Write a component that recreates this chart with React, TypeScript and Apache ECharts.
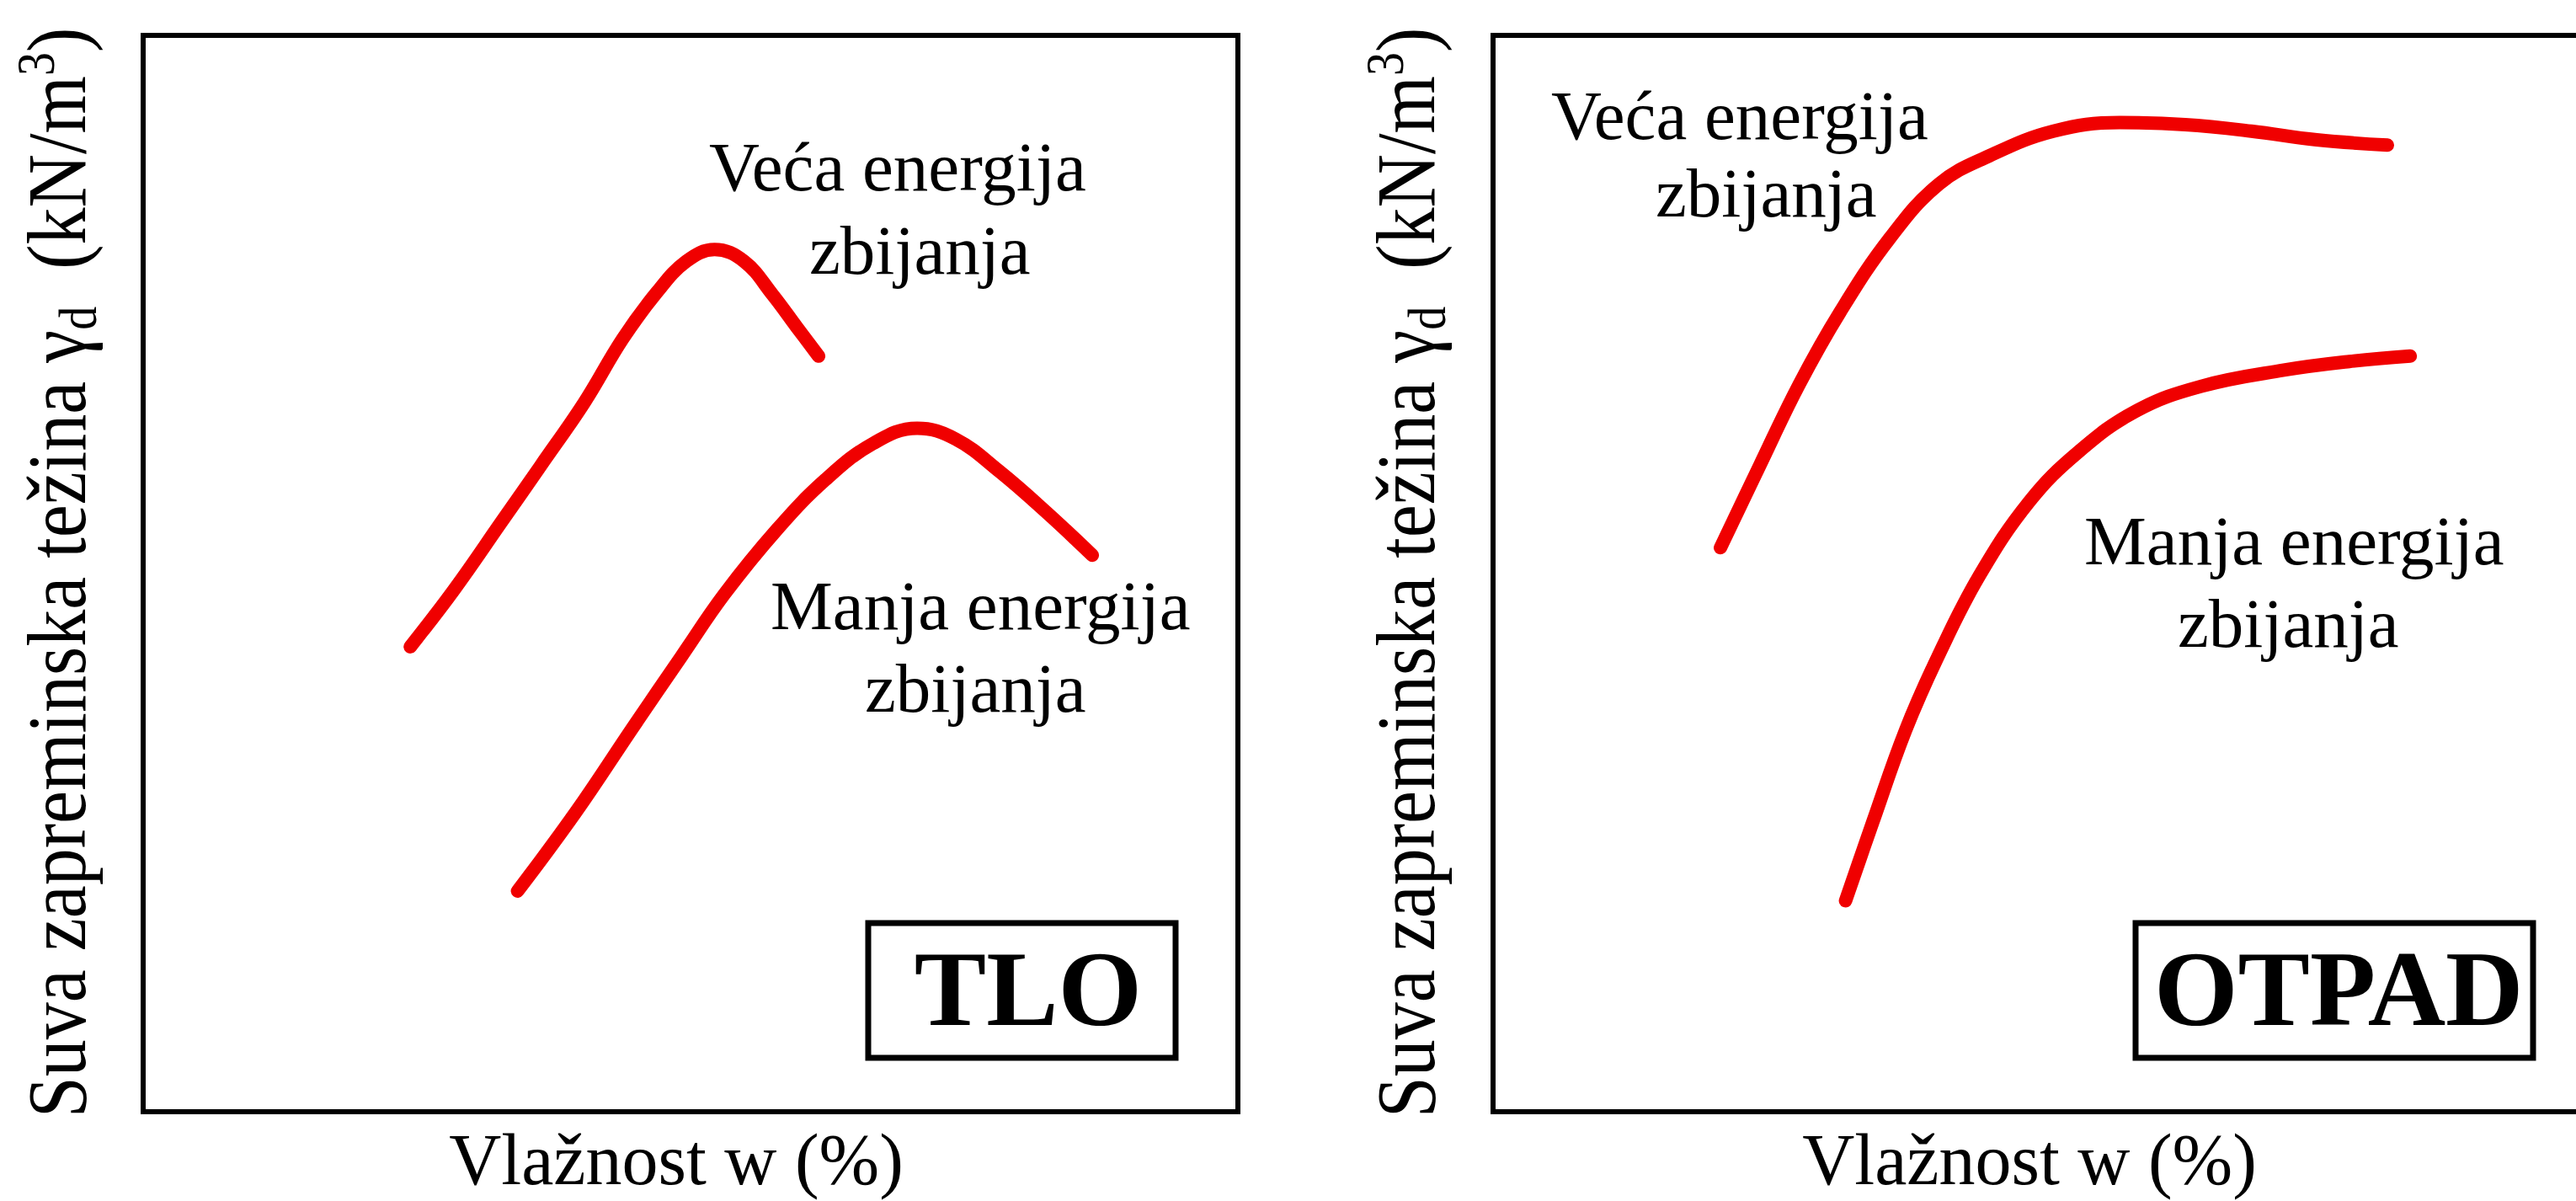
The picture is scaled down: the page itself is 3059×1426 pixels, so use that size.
import React, { useEffect, useRef } from 'react';
import * as echarts from 'echarts';

const W = 3059;
const H = 1426;

// Values are in relative units (0-100 of each panel's box).
// Left panel: TLO (soil)
const tloVecaW = [24.4, 28.4, 32.8, 36.3, 40.3, 43.8, 46.9, 49.6, 52.2, 54.9, 57.5, 59.7, 61.7];
const tloVecaGamma = [43.2, 48.5, 54.9, 60.0, 65.9, 71.8, 76.1, 79.0, 80.1, 79.0, 75.9, 72.9, 70.2];
const tloManjaW = [34.2, 39.5, 44.8, 49.1, 53.1, 57.9, 62.3, 66.7, 70.7, 74.2, 78.2, 82.5, 86.7];
const tloManjaGamma = [20.5, 27.8, 35.8, 42.2, 48.1, 54.1, 58.7, 62.1, 63.5, 62.5, 59.5, 55.7, 51.7];

// Right panel: OTPAD (waste)
const otpadVecaW = [20.9, 24.4, 28.1, 31.9, 36.5, 41.0, 45.6, 51.5, 57.6, 63.6, 69.7, 75.7, 82.2];
const otpadVecaGamma = [52.4, 59.8, 67.5, 74.3, 81.2, 86.2, 88.8, 91.1, 91.9, 91.7, 91.1, 90.3, 89.8];
const otpadManjaW = [32.4, 34.9, 37.9, 40.9, 44.7, 49.3, 53.8, 59.1, 65.1, 72.7, 78.7, 84.3];
const otpadManjaGamma = [19.6, 26.9, 35.4, 42.3, 49.8, 56.7, 61.3, 65.1, 67.4, 68.9, 69.7, 70.2];

const xTitle = 'Vlažnost w (%)';
const panelNames = ['TLO', 'OTPAD'];
const higherLines = ['Veća energija', 'zbijanja'];
const lowerLines = ['Manja energija', 'zbijanja'];

const RED = '#f00000';
const SERIF = '"Liberation Serif", "Times New Roman", Times, serif';

const zip = (a: number[], b: number[]) => a.map((v, i) => [v, b[i]]);

function txt(text: string, x: number, baseline: number, size: number, align = 'left', weight = 'normal') {
  return {
    type: 'text',
    x,
    y: baseline - 0.3375 * size,
    silent: true,
    style: {
      text,
      fontFamily: SERIF,
      fontSize: size,
      fontWeight: weight,
      fill: '#000',
      align,
      verticalAlign: 'middle',
    },
  };
}

function yLabel(x: number) {
  return {
    type: 'text',
    x,
    y: 680,
    rotation: Math.PI / 2,
    scaleY: 1.12,
    silent: true,
    style: {
      text: '{a|Suva zapreminska težina γ}{s|d}{a|  (kN/m}{p|3}{a|)}',
      align: 'center',
      verticalAlign: 'middle',
      fill: '#000',
      rich: {
        a: { fontFamily: SERIF, fontSize: 88, lineHeight: 100, verticalAlign: 'middle', fill: '#000' },
        s: { fontFamily: SERIF, fontSize: 56, lineHeight: 44, verticalAlign: 'bottom', fill: '#000' },
        p: { fontFamily: SERIF, fontSize: 56, lineHeight: 76, verticalAlign: 'top', fill: '#000' },
      },
    },
  };
}

function lineSeries(xi: number, w: number[], g: number[]) {
  return {
    type: 'line',
    xAxisIndex: xi,
    yAxisIndex: xi,
    data: zip(w, g),
    smooth: 0.4,
    showSymbol: false,
    symbol: 'none',
    silent: true,
    clip: false,
    lineStyle: { color: RED, width: 16, cap: 'round', join: 'round' },
  };
}

export default function App() {
  const ref = useRef<HTMLDivElement>(null);
  useEffect(() => {
    if (!ref.current) return;
    const chart = echarts.init(ref.current, null, { renderer: 'svg', width: W, height: H });
    const gridCommon = {
      top: 42,
      height: 1278,
      show: true,
      borderColor: '#000',
      borderWidth: 6,
      backgroundColor: 'transparent',
      containLabel: false,
      outerBoundsMode: 'none',
    };
    chart.setOption({
      animation: false,
      backgroundColor: '#fff',
      grid: [
        { ...gridCommon, left: 170, width: 1300 },
        { ...gridCommon, left: 1773, width: 1292 },
      ],
      xAxis: [0, 1].map((i) => ({ type: 'value', gridIndex: i, min: 0, max: 100, show: false })),
      yAxis: [0, 1].map((i) => ({ type: 'value', gridIndex: i, min: 0, max: 100, show: false })),
      series: [
        lineSeries(0, tloVecaW, tloVecaGamma),
        lineSeries(0, tloManjaW, tloManjaGamma),
        lineSeries(1, otpadVecaW, otpadVecaGamma),
        lineSeries(1, otpadManjaW, otpadManjaGamma),
      ],
      graphic: [
        // panel name boxes
        { type: 'rect', silent: true, shape: { x: 1031, y: 1096, width: 365, height: 160 }, style: { fill: 'none', stroke: '#000', lineWidth: 7 } },
        { type: 'rect', silent: true, shape: { x: 2536, y: 1096, width: 472, height: 160 }, style: { fill: 'none', stroke: '#000', lineWidth: 7 } },
        txt(panelNames[0], 1221, 1217, 128, 'center', 'bold'),
        txt(panelNames[1], 2558, 1217, 128, 'left', 'bold'),
        // curve annotations, left
        txt(higherLines[0], 842, 226, 83),
        txt(higherLines[1], 961, 325, 83),
        txt(lowerLines[0], 915, 747, 83),
        txt(lowerLines[1], 1027, 845, 83),
        // curve annotations, right
        txt(higherLines[0], 1842, 165, 83),
        txt(higherLines[1], 1966, 257, 83),
        txt(lowerLines[0], 2475, 670, 83),
        txt(lowerLines[1], 2586, 768, 83),
        // axis titles
        txt(xTitle, 803, 1406, 86, 'center'),
        txt(xTitle, 2410, 1406, 86, 'center'),
        yLabel(68),
        yLabel(1670),
      ],
    });
    return () => chart.dispose();
  }, []);
  return (
    <div
      ref={ref}
      style={{ position: 'fixed', left: 0, top: 0, width: W, height: H, background: '#fff' }}
    />
  );
}
